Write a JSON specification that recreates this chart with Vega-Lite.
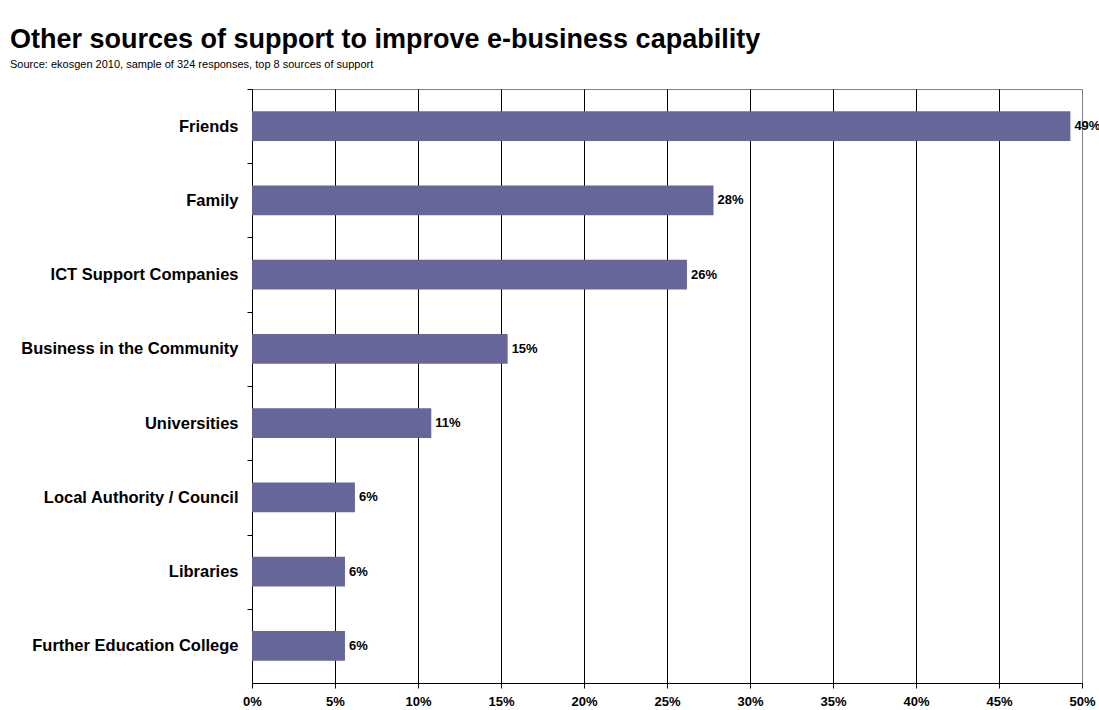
{
  "$schema": "https://vega.github.io/schema/vega-lite/v6.json",
  "autosize": "none",
  "width": 830,
  "height": 594,
  "padding": {"left": 252, "top": 89, "right": 17, "bottom": 27},
  "background": "white",
  "config": {
    "font": "Liberation Sans",
    "view": {"stroke": "#808080", "strokeWidth": 1}
  },
  "title": {
    "text": "Other sources of support to improve e-business capability",
    "subtitle": "Source: ekosgen 2010, sample of 324 responses, top 8 sources of support",
    "anchor": "start",
    "frame": "group",
    "dx": -242,
    "offset": 18,
    "font": "Liberation Sans",
    "fontSize": 27,
    "fontWeight": "bold",
    "color": "black",
    "subtitleFont": "Liberation Sans",
    "subtitleFontSize": 11,
    "subtitleColor": "black",
    "subtitlePadding": 5
  },
  "data": {
    "values": [
      {"source": "Friends", "share": 0.493},
      {"source": "Family", "share": 0.278},
      {"source": "ICT Support Companies", "share": 0.262},
      {"source": "Business in the Community", "share": 0.154},
      {"source": "Universities", "share": 0.108},
      {"source": "Local Authority / Council", "share": 0.062},
      {"source": "Libraries", "share": 0.056},
      {"source": "Further Education College", "share": 0.056}
    ]
  },
  "encoding": {
    "y": {
      "field": "source",
      "type": "nominal",
      "sort": null,
      "scale": {"paddingInner": 0.6, "paddingOuter": 0.3},
      "axis": {
        "title": null,
        "domainColor": "black",
        "tickColor": "black",
        "tickSize": 5,
        "tickOffset": -37.125,
        "labelOffset": 37.125,
        "labelFontSize": 16.5,
        "labelFontWeight": "bold",
        "labelColor": "black",
        "labelPadding": 9,
        "labelLimit": 0,
        "labelFont": "Liberation Sans"
      }
    },
    "x": {
      "field": "share",
      "type": "quantitative",
      "scale": {"domain": [0, 0.5], "nice": false},
      "axis": {
        "title": null,
        "format": ".0%",
        "values": [0, 0.05, 0.1, 0.15, 0.2, 0.25, 0.3, 0.35, 0.4, 0.45, 0.5],
        "grid": true,
        "gridColor": {"condition": {"test": "datum.value >= 0.5", "value": "#808080"}, "value": "black"},
        "gridWidth": 1,
        "domainColor": "black",
        "tickColor": "black",
        "tickSize": 5,
        "labelFontSize": 13,
        "labelFontWeight": "bold",
        "labelColor": "black",
        "labelPadding": 7,
        "labelFont": "Liberation Sans",
        "labelFlush": false
      }
    }
  },
  "layer": [
    {"mark": {"type": "bar", "color": "#666699"}},
    {
      "mark": {"type": "text", "align": "left", "dx": 4, "fontSize": 13, "fontWeight": "bold", "color": "black", "font": "Liberation Sans"},
      "encoding": {"text": {"field": "share", "type": "quantitative", "format": ".0%"}}
    }
  ]
}
